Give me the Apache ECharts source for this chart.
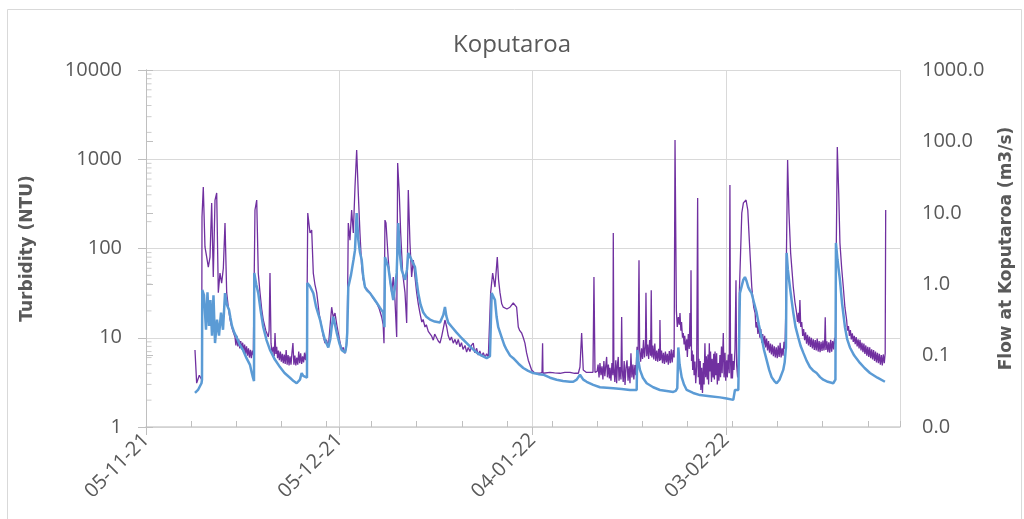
<!DOCTYPE html>
<html><head><meta charset="utf-8">
<script src="https://cdn.jsdelivr.net/npm/echarts@6/dist/echarts.min.js"></script>
<style>html,body{margin:0;padding:0;background:#fff}#c{width:1024px;height:519px}</style>
</head><body><div id="c"></div>
<script>
// Day offsets are days since 05-11-21
const chartTitle = 'Koputaroa';
const xTickLabels = ['05-11-21', '05-12-21', '04-01-22', '03-02-22'];
const leftMinorTicks = [2,3,4,5,6,7,8,9,20,30,40,50,60,70,80,90,200,300,400,500,600,700,800,900,2000,3000,4000,5000,6000,7000,8000,9000];

const turbidity = [
[7.6,7.3],[7.86,3.1],[8.27,3.8],[8.64,3.4],[8.69,225],[8.89,489],[9.15,104],[9.42,80],[9.67,62],[9.93,80],[10.19,324],[10.44,48],[10.71,349],[10.97,419],[11.22,32],[11.48,53],[11.74,41],[12.0,60],[12.26,193],[12.52,32],[12.77,22],[13.05,16],[13.3,13.2],[13.55,11.5],
[13.81,10.2],[13.95,8.2],[14.1,10.5],[14.25,8.0],[14.4,9.6],[14.55,7.6],[14.7,9.2],[14.85,7.4],[15.0,8.8],[15.15,7.0],[15.3,8.4],[15.45,6.6],[15.6,8.0],[15.75,6.3],[15.9,7.6],[16.05,6.0],[16.2,7.3],[16.35,5.9],[16.5,7.2],[16.65,6.4],
[16.91,270],[17.18,349],[17.42,53],[17.69,32],[17.95,21],[18.2,15.8],[18.6,12],[18.98,10.2],[19.1,12],[19.24,53],
[19.4,8.7],[19.55,6.8],[19.75,7.9],[19.9,6.2],[20.02,11.3],[20.15,6.6],[20.28,7.9],[20.42,5.9],[20.55,7.2],[20.7,5.6],[20.85,7.0],[21.0,5.4],[21.15,6.6],[21.3,5.2],[21.45,6.5],[21.6,5.1],[21.75,7.3],[21.9,5.0],[22.05,6.4],[22.2,4.9],[22.34,6.2],[22.5,5.0],[22.65,6.8],[22.8,8.7],[22.95,5.0],[23.1,6.3],[23.25,4.9],[23.4,6.0],[23.55,5.0],[23.7,7.0],[23.85,5.2],[24.0,6.7],[24.15,5.1],[24.3,6.2],[24.45,5.3],[24.6,6.8],[24.75,5.6],[24.93,7.3],
[25.1,250],[25.45,149],[25.71,161],[25.96,53],[26.2,40],[26.49,32],[26.9,18],[27.26,13.2],[27.5,10.5],[27.77,8.7],[28.0,9.5],[28.29,7.9],[28.5,12],[28.81,22],[29.05,17],[29.33,18.9],[29.6,14],[29.84,11.3],[30.1,9],[30.36,7.3],[30.6,7.8],[30.88,6.7],[31.05,7.5],[31.23,11.3],
[31.39,193],[31.65,124],[31.91,270],[32.17,149],[32.43,489],[32.69,1270],[32.94,419],[33.2,149],[33.47,62],[33.7,45],[33.98,37],[34.3,35],[34.76,32],[35.2,28],[35.8,24.5],[36.2,21],[36.57,17.1],[36.8,14],[36.93,8.7],
[37.08,208],[37.24,193],[37.6,74],[37.85,45],[38.12,32],[38.37,48],[38.63,26.5],[38.9,10.2],[39.05,908],[39.3,419],[39.52,149],[39.83,53],[40.19,32],[40.45,14.6],[40.7,452],[40.96,115],[41.22,48],[41.48,74],[41.74,48],[42.0,32],[42.25,24],
[42.51,18.9],[42.8,15],[43.0,16],[43.29,13.2],[43.5,14],[43.8,11.8],[44.07,12.2],[44.3,10.5],[44.58,9.4],[44.8,11],[45.1,11.3],[45.35,9.2],[45.62,8.7],[45.9,10.5],[46.13,10.2],[46.39,15.8],[46.66,13.2],[46.9,10.5],[47.17,9.4],[47.4,10.2],[47.68,8.7],[47.95,9.6],[48.2,8.4],[48.45,9.6],[48.72,7.9],[48.95,8.8],[49.2,7.4],[49.5,8.2],[49.75,6.9],[50.0,7.8],[50.27,7.0],[50.5,8.2],[50.78,8.7],[51.0,6.8],[51.31,7.6],[51.55,6.4],[51.8,7.1],[52.05,6.2],[52.34,6.8],[52.6,6.0],[52.85,6.6],[53.12,6.1],
[53.48,32],[53.79,53],[54.15,37],[54.51,80],[54.7,45],[54.93,32],[55.2,24],[55.44,22],[56.0,21],[56.48,22],[56.99,24.5],[57.51,22],[57.77,13.2],[58.0,12],[58.29,11.3],[58.55,10],[58.8,8.7],[59.05,6.8],[59.32,5.6],[59.84,4.35],[60.36,4.0],[61.13,4.0],[61.45,4.1],[61.54,8.7],[61.6,4.0],[61.75,4.0],[62.68,4.1],[63.4,4.05],[64.24,4.0],[65.0,4.1],[65.79,4.1],[66.5,4.0],[67.09,4.0],[67.34,4.7],[67.6,11.3],[67.85,4.35],[68.3,4.1],[68.89,4.1],[69.36,4.1],[69.51,48],[69.67,4.1],
[70.0,4.2],[70.15,5.0],[70.3,3.6],[70.44,5.2],[70.6,3.8],[70.75,4.8],[70.9,3.4],[71.05,5.5],[71.2,3.7],[71.35,4.9],[71.48,6.1],[71.6,3.6],[71.75,5.0],[71.9,3.5],[72.0,4.6],[72.15,3.3],[72.3,5.2],[72.45,3.8],[72.51,149],[72.6,4.7],[72.75,3.2],[72.9,5.6],[73.03,3.1],[73.15,4.9],[73.28,6.1],[73.4,3.3],[73.55,4.7],[73.7,3.4],[73.81,17.1],[73.9,4.35],[74.05,3.2],[74.2,5.5],[74.33,2.96],[74.48,4.6],[74.64,5.6],[74.8,3.3],[74.95,4.8],[75.1,3.1],[75.25,6.7],[75.4,3.6],[75.56,5.0],[75.7,3.4],[75.87,4.95],[76.0,3.8],[76.2,7.9],[76.35,5.2],[76.5,74],[76.6,7.3],[76.75,5.4],[76.9,7.6],[77.05,5.8],[77.2,9.4],[77.35,6.0],[77.5,8.0],[77.58,32],[77.7,6.2],[77.85,8.4],[78.0,5.8],[78.15,9.4],[78.3,6.3],[78.4,34],[78.5,6.0],[78.65,8.2],[78.8,5.7],[78.95,8.6],[79.1,5.5],[79.25,7.2],[79.4,5.4],[79.55,7.5],[79.7,5.5],[79.75,15.8],[79.85,5.6],[80.0,7.2],[80.15,5.2],[80.3,6.8],[80.45,5.1],[80.6,7.0],[80.75,5.3],[80.9,6.6],[81.05,5.0],[81.2,7.1],[81.35,5.2],[81.5,7.4],[81.65,5.3],[81.82,7.3],[81.95,6.0],
[82.09,1640],[82.2,161],[82.3,20],[82.44,13.2],[82.6,17],[82.75,14],[82.86,18.9],[83.0,12],[83.1,15],[83.25,10],[83.37,11.3],[83.5,8.4],[83.6,10.5],[83.75,7.2],[83.9,9.6],[84.0,6.1],[84.15,11],[84.3,7.5],[84.41,18.9],[84.5,8],[84.57,57],[84.65,5.5],[84.75,7.2],[84.83,4.35],[84.95,6.5],[85.05,3.8],[85.18,5.4],[85.3,3.1],[85.45,4.8],[85.6,368],[85.7,3.6],[85.8,5.8],[85.9,3.0],[86.0,5.5],[86.1,2.6],[86.23,4.6],[86.35,2.4],[86.5,5.2],[86.6,3.0],[86.73,8.7],[86.85,3.6],[86.95,6.2],[87.09,3.4],[87.2,6.5],[87.3,3.0],[87.41,8.7],[87.51,4.2],[87.6,7.0],[87.75,3.2],[87.85,5.8],[88.0,3.6],[88.1,6.6],[88.2,3.4],[88.3,7.0],[88.42,3.8],[88.55,6.7],[88.65,3.0],[88.8,5.2],[88.9,3.3],[89.06,6.4],[89.15,3.6],[89.3,8.0],[89.4,4.0],[89.58,11.3],[89.7,3.6],[89.85,6.8],[89.95,3.3],[90.1,5.6],[90.2,3.6],[90.35,6.5],[90.5,4.0],[90.61,514],[90.7,5.6],[90.8,3.5],[90.9,6.6],[91.0,3.5],[91.12,5.5],[91.24,4.35],[91.4,7.5],[91.55,44],[91.65,5],[91.81,3.6],[91.95,6.5],
[92.07,32],[92.45,250],[92.7,324],[93.11,349],[93.38,270],[93.64,115],[94.0,37],[94.3,22],[94.52,18.9],[94.65,13],[94.8,15],[94.95,11],[95.1,14],[95.25,10],[95.4,12.5],[95.55,8.8],[95.7,11],[95.85,8.2],[96.0,10.5],[96.15,7.8],[96.3,9.8],[96.45,7.2],[96.6,9.2],[96.75,6.8],[96.9,8.6],[97.05,6.5],[97.2,8.4],[97.35,6.2],[97.5,8.0],[97.65,6.0],[97.8,7.8],[97.95,5.9],[98.1,8.2],[98.25,6.1],[98.4,8.8],[98.55,6.0],[98.7,7.6],[98.85,6.3],[99.0,9.0],[99.15,7.5],[99.25,15.8],
[99.56,981],[99.77,250],[100.03,89],[100.44,37],[100.7,25],[100.96,18.9],[101.1,15],[101.25,19],[101.35,14.5],[101.47,26.5],[101.6,13.2],[101.75,15],[101.9,10.5],[102.05,12.5],[102.2,9.4],[102.35,11.5],[102.5,8.6],[102.65,10.8],[102.8,8.2],[102.95,10.3],[103.1,7.9],[103.25,10],[103.4,7.6],[103.55,9.6],[103.7,7.3],[103.85,9.4],[104.0,7.2],[104.15,9.8],[104.3,7.0],[104.45,9.2],[104.6,6.9],[104.75,9.0],[104.9,7.1],[105.05,9.3],[105.2,7.2],[105.3,8.5],[105.4,17],[105.5,7.3],[105.65,9.1],[105.8,6.9],[105.95,8.9],[106.1,6.8],[106.25,9.5],[106.4,7.0],[106.55,9.2],[106.7,7.4],[106.85,10],[106.98,8.5],
[107.06,44],[107.27,1371],[107.49,419],[107.68,115],[107.95,60],[108.2,37],[108.45,22],[108.72,15.8],[108.85,12],[109.0,13.5],[109.15,10.5],[109.3,12.2],[109.45,9.6],[109.6,11.2],[109.75,9.0],[109.9,10.5],[110.05,8.5],[110.2,10.2],[110.35,8.0],[110.5,9.6],[110.65,7.6],[110.8,9.5],[110.95,7.2],[111.1,8.8],[111.25,6.9],[111.4,8.6],[111.55,6.6],[111.7,8.2],[111.85,6.3],[112.0,7.9],[112.15,6.1],[112.3,7.8],[112.45,5.9],[112.6,7.4],[112.75,5.7],[112.9,7.3],[113.05,5.5],[113.2,7.0],[113.35,5.3],[113.5,6.8],[113.65,5.2],[113.8,6.6],[113.95,5.0],[114.1,6.4],[114.25,4.9],[114.4,6.5],[114.56,5.2],[114.7,6.7],[114.78,270]
];

const flow = [
[7.6,0.030],[8.07,0.033],[8.61,0.041],[8.69,0.046],[8.73,0.83],[8.89,0.83],[9.0,0.70],[9.31,0.23],[9.54,0.77],[9.78,0.26],[10.0,0.60],[10.24,0.19],[10.47,0.70],[10.71,0.15],[11.02,0.32],[11.33,0.19],[11.64,0.40],[11.95,0.23],[12.26,0.75],[12.57,0.51],[12.88,0.44],[13.1,0.34],[13.34,0.26],[13.7,0.21],[14.07,0.18],[14.5,0.145],[15.05,0.12],[15.6,0.092],[16.14,0.074],[16.4,0.058],[16.6,0.049],[16.76,0.044],
[16.8,1.44],[17.1,1.0],[17.42,0.75],[17.8,0.42],[18.2,0.25],[18.7,0.165],[19.24,0.12],[20.0,0.088],[20.79,0.069],[21.5,0.057],[22.34,0.049],[22.9,0.044],[23.38,0.041],[23.89,0.046],[24.15,0.057],[24.4,0.052],[24.67,0.049],[24.98,0.049],
[25.03,1.04],[25.4,0.95],[25.96,0.75],[26.4,0.48],[27.0,0.32],[27.4,0.22],[27.77,0.165],[28.29,0.13],[28.6,0.17],[28.81,0.25],[29.06,0.35],[29.3,0.28],[29.59,0.21],[30.0,0.15],[30.36,0.12],[30.88,0.11],[31.1,0.14],[31.23,0.21],
[31.39,0.91],[31.81,1.35],[32.2,2.2],[32.43,3.0],[32.69,9.9],[32.94,4.2],[33.2,2.8],[33.47,2.2],[33.7,1.3],[33.98,0.91],[34.3,0.82],[34.76,0.75],[35.3,0.64],[35.8,0.55],[36.3,0.47],[36.82,0.40],[37.0,0.25],
[37.08,2.4],[37.6,1.74],[38.0,0.95],[38.37,0.60],[38.7,1.0],[38.9,1.44],[39.15,7.2],[39.4,2.6],[39.67,1.58],[40.19,1.15],[40.5,1.6],[40.7,2.74],[41.22,2.18],[41.74,1.74],[42.0,1.1],[42.25,0.75],[42.6,0.52],[43.03,0.40],[43.5,0.35],[44.07,0.32],[44.8,0.30],[45.62,0.29],[46.13,0.37],[46.39,0.48],[46.6,0.36],[46.9,0.29],[47.5,0.25],[48.2,0.21],[49.0,0.175],[49.76,0.15],[50.5,0.128],[51.31,0.11],[52.1,0.10],[52.86,0.092],[53.37,0.098],
[53.64,0.75],[53.9,0.72],[54.15,0.60],[54.4,0.35],[54.66,0.25],[55.19,0.18],[55.6,0.14],[55.97,0.12],[56.5,0.10],[56.99,0.092],[57.8,0.077],[58.54,0.067],[59.3,0.061],[60.09,0.057],[60.9,0.055],[61.64,0.054],[62.7,0.049],[63.72,0.046],[64.7,0.044],[65.79,0.043],[66.3,0.043],[66.83,0.046],[67.34,0.054],[67.85,0.046],[68.38,0.043],[69.4,0.039],[70.44,0.036],[71.5,0.0355],[72.51,0.035],[73.8,0.034],[75.1,0.033],[76.14,0.033],
[76.23,0.12],[76.4,0.085],[76.65,0.063],[77.1,0.049],[77.69,0.041],[78.7,0.036],[79.75,0.033],[80.8,0.032],[81.82,0.031],[82.2,0.032],[82.44,0.035],[82.6,0.13],[82.8,0.075],[83.12,0.050],[83.5,0.039],[83.9,0.033],[84.9,0.030],[85.96,0.028],[87.5,0.027],[89.06,0.026],[90.1,0.025],[91.13,0.024],[91.39,0.033],[91.91,0.033],
[92.16,0.75],[92.68,1.15],[92.94,1.26],[93.2,1.1],[93.45,0.91],[93.7,0.82],[93.97,0.75],[94.35,0.55],[94.75,0.40],[95.1,0.27],[95.52,0.18],[95.9,0.12],[96.3,0.087],[96.7,0.063],[97.08,0.050],[97.5,0.044],[97.86,0.041],[98.3,0.046],[98.88,0.063],[99.1,0.08],[99.3,0.13],
[99.41,2.74],[99.6,1.6],[99.92,0.91],[100.2,0.58],[100.44,0.40],[100.8,0.25],[101.21,0.18],[101.6,0.135],[101.99,0.11],[102.5,0.085],[103.03,0.069],[103.5,0.062],[104.06,0.057],[104.6,0.05],[105.09,0.046],[105.8,0.043],[106.64,0.041],[106.98,0.046],
[107.06,3.78],[107.3,2.2],[107.68,1.15],[108.0,0.55],[108.46,0.25],[108.8,0.17],[109.23,0.13],[109.9,0.10],[110.78,0.079],[111.5,0.067],[112.34,0.057],[113.5,0.049],[114.66,0.043]
];

const TXT = '#595959';
const chart = echarts.init(document.getElementById('c'), null, {renderer: 'canvas'});
chart.setOption({
  animation: false,
  backgroundColor: '#ffffff',
  title: {text: chartTitle, left: 'center', top: 28,
    textStyle: {fontFamily: 'Open Sans', fontSize: 24, fontWeight: 'normal', color: TXT}},
  graphic: [{type: 'rect', silent: true, shape: {x: 7.5, y: 9.5, width: 1014, height: 530},
    style: {fill: 'none', stroke: '#d9d9d9', lineWidth: 1}}],
  grid: {left: 146, right: 124, top: 70, bottom: 92},
  xAxis: [{
    type: 'value', min: 0, max: 117, interval: 30,
    axisLine: {show: true, lineStyle: {color: '#d0d0d0', width: 1.5}},
    axisTick: {show: true, inside: false, length: 8, lineStyle: {color: '#bfbfbf'}},
    axisLabel: {rotate: 45, margin: 10, fontFamily: 'Open Sans', fontSize: 20, color: TXT,
      showMaxLabel: false, formatter: v => xTickLabels[Math.round(v / 30)] || ''},
    splitLine: {show: true, lineStyle: {color: '#d9d9d9', width: 1}}
  }, {
    type: 'value', min: 0, max: 117, interval: 7, position: 'bottom',
    axisLine: {show: false},
    axisTick: {show: true, inside: true, length: 6, lineStyle: {color: '#bfbfbf'}},
    axisLabel: {show: false}, splitLine: {show: false}
  }],
  yAxis: [{
    type: 'log', logBase: 10, min: 1, max: 10000, position: 'left',
    axisLine: {show: true, lineStyle: {color: '#bfbfbf'}},
    axisTick: {show: true, inside: false, length: 8, lineStyle: {color: '#bfbfbf'}},
    axisLabel: {margin: 24, fontFamily: 'Open Sans', fontSize: 20, color: TXT, formatter: v => String(v)},
    splitLine: {show: true, lineStyle: {color: '#d9d9d9', width: 1}},
    name: 'Turbidity (NTU)', nameLocation: 'middle', nameGap: 110,
    nameTextStyle: {fontFamily: 'DejaVu Sans', fontWeight: 'bold', fontSize: 17, color: TXT, padding: [0, 0, 0, 0]}
  }, {
    type: 'log', logBase: 10, min: 0.01, max: 1000, position: 'right',
    axisLine: {show: true, lineStyle: {color: '#bfbfbf'}},
    axisTick: {show: true, inside: false, length: 7, lineStyle: {color: '#bfbfbf'}},
    axisLabel: {margin: 22, fontFamily: 'Open Sans', fontSize: 20, color: TXT, formatter: v => Number(v).toFixed(1)},
    splitLine: {show: false},
    name: 'Flow at Koputaroa (m3/s)', nameLocation: 'middle', nameGap: 98,
    nameTextStyle: {fontFamily: 'DejaVu Sans', fontWeight: 'bold', fontSize: 17, color: TXT}
  }],
  series: [{
    type: 'scatter', xAxisIndex: 0, yAxisIndex: 0, silent: true, clip: false, z: 1,
    data: leftMinorTicks.map(v => [0, v]), symbol: 'rect', symbolSize: [5, 1], symbolOffset: [3, 0],
    itemStyle: {color: '#bfbfbf'}
  }, {
    name: 'Turbidity', type: 'line', xAxisIndex: 0, yAxisIndex: 0, data: turbidity,
    showSymbol: false, symbol: 'none', sampling: 'none', z: 2,
    lineStyle: {color: '#7030A0', width: 1.3}
  }, {
    name: 'Flow', type: 'line', xAxisIndex: 0, yAxisIndex: 1, data: flow,
    showSymbol: false, symbol: 'none', sampling: 'none', z: 3,
    lineStyle: {color: '#5B9BD5', width: 2.5}
  }]
});
</script></body></html>
